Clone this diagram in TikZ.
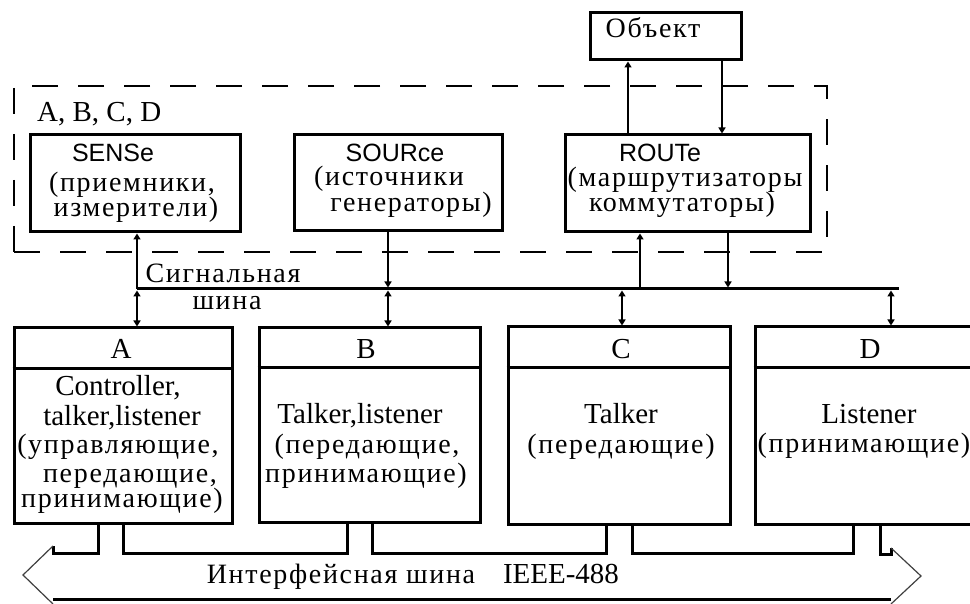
\documentclass[tikz,border=0pt]{standalone}
\usepackage{fontspec}
\setmainfont{Liberation Serif}
\newfontfamily\cyfont{Liberation Serif}[LetterSpace=6]
\newfontfamily\sansfont{Liberation Sans}
\usetikzlibrary{arrows.meta}

\tikzset{
  box/.style={draw, line width=3pt, rectangle, inner sep=0pt},
  grpframe/.style={draw, line width=1.7pt, dash pattern=on 26pt off 20pt, rectangle, inner sep=0pt},
  conn/.style={line width=1.5pt},
  toend/.style={-{Triangle[length=6pt,width=7pt]}},
  both/.style={{Triangle[length=6pt,width=7pt]}-{Triangle[length=6pt,width=7pt]}},
  sbus/.style={line width=3pt},
  ibus/.style={line width=3pt, line join=miter},
  ihead/.style={line width=1.2pt, black!75},
  lat/.style={font=\fontsize{29}{29}\selectfont, inner sep=0pt, anchor=base, text height=19pt, text depth=5pt},
  cy/.style={font=\cyfont\fontsize{28}{29}\selectfont, inner sep=0pt, anchor=base, text height=16pt, text depth=4pt},
  sf/.style={font=\sansfont\fontsize{25}{29}\selectfont, inner sep=0pt, anchor=base, text height=17pt, text depth=1pt},
  divider/.style={line width=3pt}
}

\begin{document}
\begin{tikzpicture}[x=1pt,y=-1pt]
\useasboundingbox (0,0) rectangle (970,604);
\fill[white] (0,0) rectangle (970,604);

% group frame of the functional blocks
\node[grpframe, minimum width=813pt, minimum height=166pt] (grp) at (420.5,169) {};
\node[lat, anchor=base west] (grpT) at (37,122) {A, B, C, D};

% upper blocks
\node[box, minimum width=151pt, minimum height=47pt] (obj) at (666,36.5) {};
\node[cy] (objT) at (653,38) {Объект};

\node[box, minimum width=210pt, minimum height=97pt] (sense) at (135,183.5) {};
\node[sf] (senseT1) at (113,162) {SENSe};
\node[cy] (senseT2) at (132,192) {(приемники,};
\node[cy] (senseT3) at (136,217) {измерители)};

\node[box, minimum width=208pt, minimum height=96pt] (source) at (398,183) {};
\node[sf] (sourceT1) at (395,162) {SOURce};
\node[cy] (sourceT2) at (389,186) {(источники};
\node[cy] (sourceT3) at (411,212) {генераторы)};

\node[box, minimum width=245pt, minimum height=97pt] (route) at (687.5,183.5) {};
\node[sf] (routeT1) at (660,162) {ROUTe};
\node[cy] (routeT2) at (685,187) {(маршрутизаторы};
\node[cy] (routeT3) at (682,212) {коммутаторы)};

% devices on the interface bus
\node[box, minimum width=218pt, minimum height=195pt] (A) at (123,425.5) {};
\node[box, minimum width=221pt, minimum height=194pt] (B) at (369.5,425) {};
\node[box, minimum width=222pt, minimum height=197pt] (C) at (619,425.5) {};
\node[box, minimum width=230pt, minimum height=197pt] (D) at (870,425.5) {};
\coordinate (dvA) at (0,368);
\coordinate (dvB) at (0,367);
\draw[divider] (A.west |- dvA) -- (A.east |- dvA);
\draw[divider] (B.west |- dvB) -- (B.east |- dvB);
\draw[divider] (C.west |- dvB) -- (C.east |- dvB);
\draw[divider] (D.west |- dvB) -- (D.east |- dvB);

\node[lat] (hA) at (121,359) {A};
\node[lat] (hB) at (366,359) {B};
\node[lat] (hC) at (621,359) {C};
\node[lat] (hD) at (870,359) {D};

\node[lat] (a1) at (118,395) {Controller,};
\node[lat] (a2) at (122,425) {talker,listener};
\node[cy]  (a3) at (118,453) {(управляющие,};
\node[cy]  (a4) at (130,482) {передающие,};
\node[cy]  (a5) at (122,507) {принимающие)};

\node[lat] (b1) at (360,423) {Talker,listener};
\node[cy]  (b2) at (367,453) {(передающие,};
\node[cy]  (b3) at (366,482) {принимающие)};

\node[lat] (c1) at (621,423) {Talker};
\node[cy]  (c2) at (621,453) {(передающие)};

\node[lat] (d1) at (869,423) {Listener};
\node[cy]  (d2) at (864,452) {(принимающие)};

% signal bus
\coordinate (sbL) at (137,289);
\coordinate (sbR) at (899,289);
\draw[sbus] (sbL) -- (sbR);
\node[cy] (sbT1) at (223,283) {Сигнальная};
\node[cy] (sbT2) at (227,310) {шина};

\coordinate (tB) at (388,289);
\coordinate (tR1) at (640,289);
\coordinate (tR2) at (728,289);
\coordinate (tC) at (622,289);
\coordinate (tD) at (891,289);

\draw[conn, toend] (sbL) -- (sense.south -| sbL);
\draw[conn, both, shorten <=1.5pt] (sbL) -- (A.north -| sbL);
\draw[conn, toend, shorten >=1.5pt] (source.south -| tB) -- (tB);
\draw[conn, both, shorten <=1.5pt] (tB) -- (B.north -| tB);
\draw[conn, toend] (tR1) -- (route.south -| tR1);
\draw[conn, toend, shorten >=1.5pt] (route.south -| tR2) -- (tR2);
\draw[conn, both, shorten <=1.5pt] (tC) -- (C.north -| tC);
\draw[conn, both, shorten <=1.5pt] (tD) -- (D.north -| tD);

% links between ROUTe and the object
\coordinate (oU) at (628,0);
\coordinate (oD) at (722,0);
\draw[conn, toend] (route.north -| oU) -- (obj.south -| oU);
\draw[conn, toend] (obj.south -| oD) -- (route.north -| oD);

% interface bus IEEE-488
\coordinate (ia1) at (98,553);
\coordinate (ia2) at (123,553);
\coordinate (ib1) at (347,553);
\coordinate (ib2) at (372,553);
\coordinate (ic1) at (606,553);
\coordinate (ic2) at (632,553);
\coordinate (id1) at (853,553);
\coordinate (id2) at (880,554);
\coordinate (lhTop) at (53,546);
\coordinate (lhTip) at (23,575);
\coordinate (lhBot) at (53,604);
\coordinate (rhTop) at (891,548);
\coordinate (rhTip) at (921,576);
\coordinate (rhBot) at (891,604);
\draw[ibus] (lhTop) -- (53,553) -- (ia1) -- (A.south -| ia1);
\draw[ibus] (A.south -| ia2) -- (ia2) -- (ib1) -- (B.south -| ib1);
\draw[ibus] (B.south -| ib2) -- (ib2) -- (ic1) -- (C.south -| ic1);
\draw[ibus] (C.south -| ic2) -- (ic2) -- (id1) -- (D.south -| id1);
\draw[ibus] (D.south -| id2) -- (id2) -- (891,554) -- (rhTop);
\draw[ibus] (53,599) -- (891,599);
\draw[ihead] (lhTop) -- (lhTip) -- (lhBot);
\draw[ihead] (rhTop) -- (rhTip) -- (rhBot);
\node[cy] (ibT1) at (341,583) {Интерфейсная шина};
\node[lat] (ibT2) at (561,583) {IEEE-488};
\end{tikzpicture}
\end{document}
